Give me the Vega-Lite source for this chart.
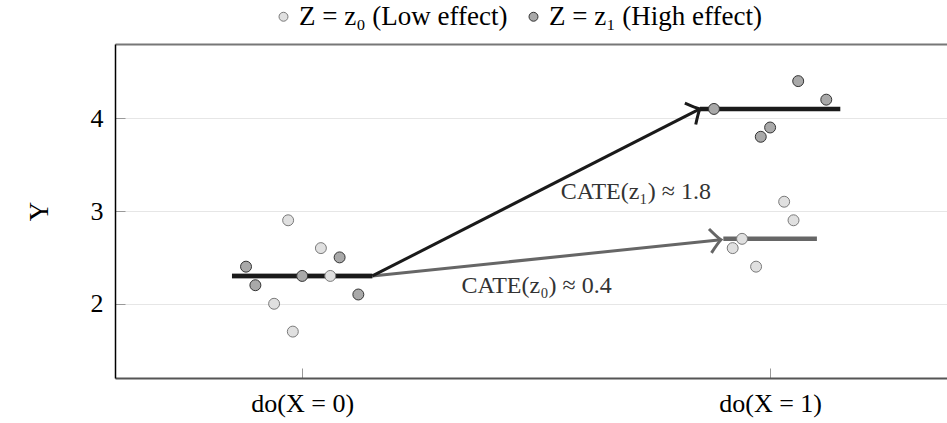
{
  "$schema": "https://vega.github.io/schema/vega-lite/v6.json",
  "width": 832,
  "height": 334,
  "autosize": {"type": "none"},
  "padding": {"left": 115, "top": 44, "right": 0, "bottom": 45},
  "background": "white",
  "config": {"view": {"stroke": null}, "font": "Liberation Serif"},
  "datasets": {
    "pts": [
      {"x": -0.03, "y": 2.9, "z": "z0"},
      {"x": 0.04, "y": 2.6, "z": "z0"},
      {"x": 0.06, "y": 2.3, "z": "z0"},
      {"x": -0.06, "y": 2.0, "z": "z0"},
      {"x": -0.02, "y": 1.7, "z": "z0"},
      {"x": -0.12, "y": 2.4, "z": "z1"},
      {"x": -0.1, "y": 2.2, "z": "z1"},
      {"x": 0.0, "y": 2.3, "z": "z1"},
      {"x": 0.08, "y": 2.5, "z": "z1"},
      {"x": 0.12, "y": 2.1, "z": "z1"},
      {"x": 0.88, "y": 4.1, "z": "z1"},
      {"x": 1.06, "y": 4.4, "z": "z1"},
      {"x": 1.12, "y": 4.2, "z": "z1"},
      {"x": 1.0, "y": 3.9, "z": "z1"},
      {"x": 0.98, "y": 3.8, "z": "z1"},
      {"x": 1.03, "y": 3.1, "z": "z0"},
      {"x": 1.05, "y": 2.9, "z": "z0"},
      {"x": 0.94, "y": 2.7, "z": "z0"},
      {"x": 0.92, "y": 2.6, "z": "z0"},
      {"x": 0.97, "y": 2.4, "z": "z0"}
    ],
    "hsegs": [
      {"x": -0.15, "x2": 0.15, "y": 2.3, "z": "z0"},
      {"x": 0.9, "x2": 1.1, "y": 2.7, "z": "z0"},
      {"x": -0.15, "x2": 0.15, "y": 2.3, "z": "z1"},
      {"x": 0.85, "x2": 1.15, "y": 4.1, "z": "z1"}
    ],
    "arrows": [
      {"x": 0.15, "y": 2.3, "x2": 0.895, "y2": 2.69, "z": "z0"},
      {"x": 0.15, "y": 2.3, "x2": 0.85, "y2": 4.1, "z": "z1"}
    ],
    "heads": [
      {"x": 0.895, "y": 2.69, "z": "z0"},
      {"x": 0.85, "y": 4.1, "z": "z1"}
    ],
    "notes": [
      {"x": 0.713, "y": 3.2, "label": "CATE(z₁) ≈ 1.8"},
      {"x": 0.501, "y": 2.19, "label": "CATE(z₀) ≈ 0.4"}
    ]
  },
  "encoding": {
    "x": {"field": "x", "type": "quantitative", "scale": {"domain": [-0.4, 1.378], "nice": false, "zero": false}, "axis": null},
    "y": {
      "field": "y", "type": "quantitative",
      "scale": {"domain": [1.2, 4.8], "nice": false, "zero": false},
      "axis": {
        "values": [2, 3, 4], "title": "Y", "titleFont": "Liberation Serif", "titleFontSize": 27,
        "titleFontWeight": "normal", "titleColor": "#000", "titlePadding": 37,
        "labelFont": "Liberation Serif", "labelFontSize": 26, "labelColor": "#000", "labelPadding": 22,
        "tickSize": -10, "tickColor": "#999", "grid": true, "gridColor": "#e6e6e6",
        "domainColor": "#000", "domainWidth": 1.5
      }
    }
  },
  "layer": [
    {
      "data": {"name": "hsegs"},
      "transform": [{"filter": "datum.z == 'z0'"}],
      "mark": {"type": "rule", "color": "#666666", "strokeWidth": 4.5},
      "encoding": {
        "x": {
          "field": "x", "type": "quantitative", "scale": {"domain": [-0.4, 1.378], "nice": false, "zero": false},
          "axis": {
            "orient": "bottom", "values": [0, 1], "title": null,
            "labelExpr": "datum.value == 0 ? 'do(X = 0)' : 'do(X = 1)'",
            "labelFont": "Liberation Serif", "labelFontSize": 26, "labelColor": "#000", "labelPadding": 22,
            "tickSize": -10, "tickColor": "#999", "grid": false, "domainColor": "#555", "domainWidth": 2
          }
        },
        "x2": {"field": "x2"}
      }
    },
    {
      "data": {"name": "arrows"},
      "transform": [{"filter": "datum.z == 'z0'"}],
      "mark": {"type": "rule", "color": "#666666", "strokeWidth": 3},
      "encoding": {"x2": {"field": "x2"}, "y2": {"field": "y2"}}
    },
    {
      "data": {"name": "hsegs"},
      "transform": [{"filter": "datum.z == 'z1'"}],
      "mark": {"type": "rule", "color": "#1a1a1a", "strokeWidth": 4.5},
      "encoding": {
        "x": {
          "field": "x", "type": "quantitative", "scale": {"domain": [-0.4, 1.378], "nice": false, "zero": false},
          "axis": {
            "orient": "top", "labels": false, "ticks": false, "title": null, "grid": false,
            "domainColor": "#777", "domainWidth": 2
          }
        },
        "x2": {"field": "x2"}
      }
    },
    {
      "data": {"name": "arrows"},
      "transform": [{"filter": "datum.z == 'z1'"}],
      "mark": {"type": "rule", "color": "#1a1a1a", "strokeWidth": 3},
      "encoding": {"x2": {"field": "x2"}, "y2": {"field": "y2"}}
    },
    {
      "data": {"name": "heads"},
      "transform": [{"filter": "datum.z == 'z0'"}],
      "mark": {"type": "point", "shape": "M -0.9 -1 Q -0.25 -0.2 0 0 Q -0.25 0.2 -0.9 1", "filled": false, "color": "#666666", "strokeWidth": 3, "size": 576, "angle": -6, "opacity": 1}
    },
    {
      "data": {"name": "heads"},
      "transform": [{"filter": "datum.z == 'z1'"}],
      "mark": {"type": "point", "shape": "M -0.9 -1 Q -0.25 -0.2 0 0 Q -0.25 0.2 -0.9 1", "filled": false, "color": "#1a1a1a", "strokeWidth": 3, "size": 576, "angle": -27, "opacity": 1}
    },
    {
      "data": {"name": "pts"},
      "mark": {"type": "circle", "size": 120, "strokeWidth": 1, "opacity": 1},
      "encoding": {
        "fill": {
          "field": "z", "type": "nominal",
          "scale": {"domain": ["z0", "z1"], "range": ["#e0e0e0", "#a9a9a9"]},
          "legend": {
            "title": null, "orient": "none", "legendX": 155, "legendY": -41, "direction": "horizontal",
            "labelFont": "Liberation Serif", "labelFontSize": 27, "labelColor": "#000", "labelLimit": 600,
            "symbolType": "circle", "symbolSize": 80, "symbolStrokeWidth": 1,
            "labelOffset": 2, "columnPadding": 12,
            "labelExpr": "datum.value == 'z0' ? 'Z = z₀ (Low effect)' : 'Z = z₁ (High effect)'"
          }
        },
        "stroke": {
          "field": "z", "type": "nominal",
          "scale": {"domain": ["z0", "z1"], "range": ["#7a7a7a", "#333333"]},
          "legend": null
        }
      }
    },
    {
      "data": {"name": "notes"},
      "mark": {"type": "text", "font": "Liberation Serif", "fontSize": 24, "color": "#333333", "align": "center", "baseline": "middle"},
      "encoding": {"text": {"field": "label"}}
    }
  ],
  "resolve": {"axis": {"x": "independent"}}
}
